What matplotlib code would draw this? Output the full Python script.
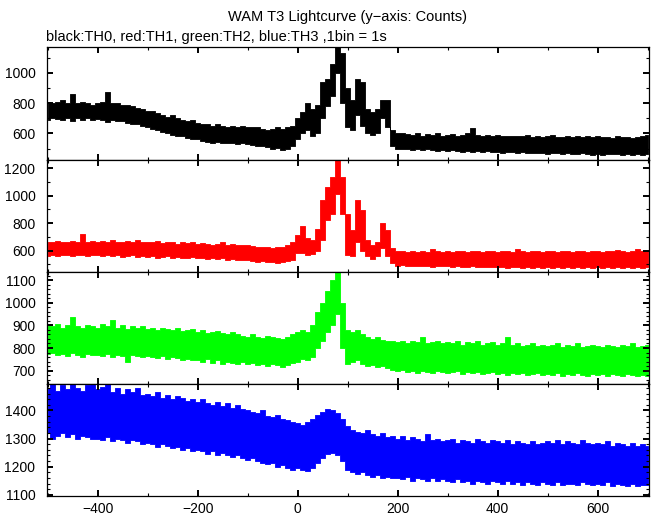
import numpy as np
import matplotlib
matplotlib.use('Agg')
import matplotlib.pyplot as plt
from matplotlib.ticker import MultipleLocator

plt.rcParams['font.family'] = ['Liberation Sans', 'DejaVu Sans']
plt.rcParams['font.size'] = 10

# time bins (s), 10 s resolution; envelope (min/max) of counts
time = np.arange(-500, 701, 10)

th0_lo = [690, 700, 695, 690, 700, 685, 700, 690, 700, 690,
          695, 690, 675, 690, 685, 680, 670, 660, 665, 650,
          640, 630, 620, 610, 605, 590, 585, 580, 570, 560,
          560, 550, 545, 540, 545, 540, 535, 540, 530, 535,
          530, 525, 520, 515, 510, 500, 505, 490, 500, 520,
          560, 600, 620, 580, 600, 700, 780, 850, 1000, 800,
          640, 620, 720, 650, 600, 590, 600, 700, 640, 520,
          500, 495, 500, 490, 495, 490, 495, 490, 485, 490,
          485, 490, 485, 480, 485, 480, 485, 480, 485, 478,
          475, 470, 478, 475, 470, 475, 470, 472, 468, 470,
          465, 470, 468, 465, 470, 465, 462, 468, 465, 460,
          465, 460, 465, 462, 465, 460, 462, 460, 465, 460,
          462]
th0_hi = [810, 800, 805, 820, 800, 860, 800, 810, 800, 790,
          800, 805, 875, 800, 800, 790, 790, 780, 770, 760,
          750, 745, 735, 720, 710, 720, 700, 690, 680, 690,
          670, 660, 660, 650, 660, 650, 645, 650, 640, 650,
          640, 645, 640, 630, 620, 630, 640, 630, 640, 650,
          700, 740, 800, 760, 790, 940, 960, 1060, 1168, 1130,
          900, 820, 960, 940, 760, 740, 760, 820, 820, 620,
          600, 600, 595, 590, 600, 585, 595, 590, 600, 585,
          590, 595, 585, 590, 600, 635, 590, 585, 590, 582,
          590, 580, 585, 580, 585, 580, 590, 578, 580, 575,
          580, 590, 575, 578, 580, 575, 580, 578, 585, 575,
          580, 575, 578, 572, 580, 575, 578, 570, 575, 580,
          590]

th1_lo = [560, 565, 560, 570, 565, 560, 570, 565, 560, 570,
          565, 560, 570, 560, 565, 555, 560, 565, 555, 560,
          555, 560, 550, 555, 560, 550, 555, 545, 550, 555,
          545, 550, 540, 545, 540, 550, 535, 540, 530, 535,
          530, 525, 520, 525, 515, 520, 510, 520, 525, 530,
          580, 580, 570, 575, 600, 680, 820, 870, 1010, 870,
          570, 560, 660, 600, 560, 540, 560, 620, 560, 510,
          490, 495, 490, 485, 490, 485, 490, 480, 488, 485,
          485, 480, 485, 480, 478, 485, 480, 478, 482, 480,
          478, 480, 475, 478, 480, 475, 478, 475, 480, 475,
          478, 475, 480, 475, 478, 472, 478, 475, 480, 475,
          478, 475, 480, 475, 478, 475, 480, 472, 478, 475,
          478]
th1_hi = [660, 665, 670, 660, 665, 670, 665, 725, 660, 670,
          665, 670, 660, 680, 665, 660, 670, 665, 675, 660,
          665, 660, 670, 655, 660, 665, 650, 660, 655, 660,
          650, 655, 650, 645, 650, 660, 645, 650, 640, 645,
          640, 635, 630, 625, 630, 620, 625, 630, 640, 660,
          714, 780, 690, 680, 760, 968, 1065, 1140, 1264, 1140,
          870, 750, 968, 895, 680, 640, 660, 800, 750, 620,
          600, 595, 590, 600, 590, 595, 590, 610, 595, 590,
          595, 590, 600, 595, 590, 600, 595, 590, 600, 595,
          590, 600, 595, 590, 610, 595, 590, 600, 595, 590,
          595, 600, 590, 595, 600, 590, 600, 595, 590, 600,
          595, 590, 600, 595, 605, 595, 590, 600, 610, 600,
          595]

th2_lo = [775, 780, 770, 775, 765, 780, 770, 760, 775, 770,
          770, 765, 775, 760, 770, 765, 740, 770, 765, 760,
          765, 760, 755, 765, 750, 760, 755, 745, 750, 745,
          745, 740, 750, 735, 745, 730, 740, 735, 730, 740,
          730, 735, 725, 730, 720, 730, 725, 715, 725, 735,
          740, 750, 745, 760, 800, 830, 870, 900, 950, 800,
          730, 740, 745, 730, 720, 725, 715, 720, 710, 705,
          700, 705, 695, 700, 690, 700, 695, 690, 700, 695,
          690, 695, 700, 685, 695, 690, 695, 685, 690, 695,
          685, 690, 680, 690, 685, 690, 680, 685, 690, 680,
          685, 680, 690, 675, 685, 680, 690, 680, 675, 685,
          680, 685, 675, 685, 680, 675, 685, 680, 675, 680,
          678]
th2_hi = [900, 895, 905, 890, 900, 935, 895, 890, 900, 895,
          890, 905, 895, 925, 890, 900, 885, 895, 890, 895,
          885, 890, 880, 890, 885, 880, 890, 875, 880, 885,
          870, 880, 865, 870, 875, 865, 860, 870, 860, 855,
          850, 860, 850, 845, 855, 850, 845, 840, 850, 860,
          870, 880, 870, 900, 960, 1000, 1050, 1100, 1136, 1000,
          880, 870, 880, 860, 850, 840, 850, 835, 830, 830,
          825, 830, 820, 830, 825, 850, 820, 825, 830, 820,
          825, 820, 830, 815, 825, 820, 830, 815, 820, 825,
          815, 820, 850, 815, 820, 810, 815, 820, 810, 815,
          810, 815, 820, 805, 815, 810, 820, 805, 810, 815,
          810, 805, 815, 810, 805, 815, 810, 820, 805, 810,
          815]

th3_lo = [1320, 1300, 1310, 1320, 1305, 1315, 1300, 1310, 1305, 1300,
          1300, 1295, 1305, 1290, 1300, 1295, 1285, 1295, 1290, 1280,
          1285, 1280, 1270, 1280, 1275, 1265, 1270, 1260, 1265, 1255,
          1260, 1255, 1245, 1255, 1240, 1250, 1240, 1235, 1240, 1230,
          1225, 1230, 1220, 1215, 1210, 1215, 1200, 1205, 1195, 1190,
          1195, 1190, 1185, 1195, 1215, 1230, 1245, 1250, 1240, 1220,
          1190, 1180, 1175, 1180, 1170, 1165, 1170, 1160, 1165, 1160,
          1160, 1155, 1165, 1150, 1160, 1155, 1150, 1160, 1150, 1155,
          1150, 1145, 1155, 1145, 1150, 1140, 1150, 1145, 1140, 1150,
          1145, 1140, 1150, 1140, 1145, 1135, 1145, 1140, 1135, 1145,
          1140, 1135, 1145, 1135, 1140, 1140, 1135, 1145, 1140, 1135,
          1140, 1135, 1145, 1130, 1140, 1135, 1130, 1140, 1130, 1135,
          1135]
th3_hi = [1480, 1494, 1470, 1490, 1475, 1494, 1480, 1470, 1490, 1494,
          1475, 1485, 1494, 1465, 1480, 1460, 1475, 1465, 1480, 1455,
          1460, 1450, 1465, 1445, 1455, 1440, 1450, 1445, 1435, 1440,
          1430, 1440, 1425, 1420, 1430, 1415, 1425, 1410, 1420, 1405,
          1400, 1395, 1390, 1400, 1380, 1375, 1385, 1370, 1365, 1360,
          1355, 1350, 1360, 1370, 1385, 1395, 1405, 1400, 1390, 1370,
          1345, 1330, 1325, 1320, 1330, 1315, 1310, 1320, 1305, 1310,
          1300, 1310, 1295, 1305, 1300, 1290, 1315, 1295, 1300, 1290,
          1295, 1300, 1285, 1295, 1290, 1285, 1300, 1290, 1285, 1295,
          1290, 1285, 1295, 1280, 1290, 1285, 1280, 1290, 1280, 1285,
          1290, 1285, 1295, 1280, 1290, 1285, 1280, 1295, 1285, 1280,
          1285, 1280, 1290, 1275, 1285, 1280, 1275, 1285, 1275, 1280,
          1275]

series = [(th0_lo, th0_hi, '#000000'), (th1_lo, th1_hi, '#ff0000'),
          (th2_lo, th2_hi, '#00ff00'), (th3_lo, th3_hi, '#0000ff')]
ylims = [(428, 1168), (447, 1264), (641, 1137), (1096, 1494)]
ymajor = [200, 200, 100, 100]
yminor = [100, 100, 20, 20]

fig = plt.figure(figsize=(6.52, 5.15), dpi=100)
W, H = 652.0, 515.0
left, right = 46.5, 649.0
tops = [47.3, 159.5, 271.7, 384.0, 496.0]

for i, (lo, hi, c) in enumerate(series):
    y0 = (H - tops[i + 1]) / H
    h = (tops[i + 1] - tops[i]) / H
    ax = fig.add_axes([left / W, y0, (right - left) / W, h])
    ax.fill_between(time, lo, hi, step='mid', color=c, lw=0.6, edgecolor=c)
    ax.set_xlim(-502.5, 702.5)
    ax.set_ylim(*ylims[i])
    ax.xaxis.set_major_locator(MultipleLocator(200))
    ax.xaxis.set_minor_locator(MultipleLocator(100))
    ax.yaxis.set_major_locator(MultipleLocator(ymajor[i]))
    ax.yaxis.set_minor_locator(MultipleLocator(yminor[i]))
    ax.tick_params(which='both', direction='in', top=True, right=True, color='k')
    ax.tick_params(which='major', length=4.5, width=1.4, pad=8)
    ax.tick_params(which='minor', length=2.2, width=0.8)
    ax.tick_params(axis='x', which='major', pad=4)
    for s in ax.spines.values():
        s.set_linewidth(0.9)
    if i < 3:
        ax.set_xticklabels([])
    if i == 0:
        ax.set_title('WAM T3 Lightcurve (y\u2212axis: Counts)', fontsize=10.5, pad=19)
        ax.text(0.0, 1.03, 'black:TH0, red:TH1, green:TH2, blue:TH3 ,1bin = 1s',
                transform=ax.transAxes, fontsize=10.5, ha='left', va='bottom')

fig.savefig('out.png', dpi=100)
